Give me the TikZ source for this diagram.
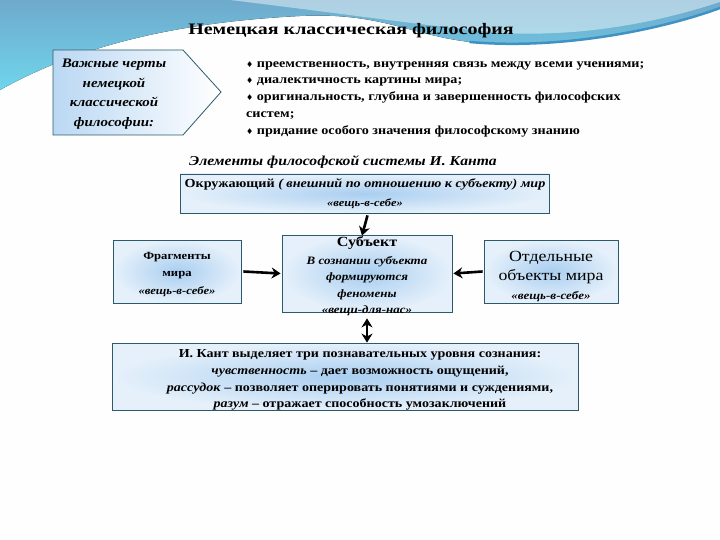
\documentclass[tikz,border=0pt]{standalone}
\usepackage{fontspec}
\setmainfont{Liberation Serif}[FakeStretch=1.15]
\newfontfamily\titlefont{Liberation Serif}[FakeStretch=1.25]
\newfontfamily\symfont{DejaVu Sans}
\usetikzlibrary{arrows.meta}
\definecolor{bordc}{HTML}{2B5A6B}
\definecolor{boxblue}{HTML}{A9CEF0}
\definecolor{skyA}{HTML}{6FA9CC}
\definecolor{skyB}{HTML}{6FD6EC}
\definecolor{swoosh}{HTML}{3F93C4}
\newcommand{\dia}{{\symfont\fontsize{8}{8}\selectfont ♦}}
\tikzset{
  box/.style={draw=bordc, line width=0.8pt, inner color=boxblue, outer color=boxblue!30, inner sep=0pt},
  bigarrow/.style={line width=2.6pt, -{Stealth[length=9pt,width=11pt]}},
  dblarrow/.style={line width=2.6pt, {Stealth[length=9pt,width=11pt]}-{Stealth[length=9pt,width=11pt]}},
  txt/.style={inner sep=0pt, align=center}
}
\begin{document}
\begin{tikzpicture}[x=1pt,y=-1pt]
\useasboundingbox (0,0) rectangle (720,540);
% background
\fill[white!99!gray] (0,0) rectangle (720,540);
\fill[top color=skyA, bottom color=skyB] (0,0) -- (0,90) .. controls (80,45) and (180,22) .. (300,16) .. controls (380,12) and (410,35) .. (470,42) .. controls (560,50) and (660,30) .. (720,8) -- (720,0) -- cycle;
\fill[white, opacity=0.45] (230,0) .. controls (330,12) and (420,25) .. (500,33) .. controls (600,38) and (680,15) .. (720,2) -- (720,0) -- cycle;
\draw[swoosh, line width=2.5pt, line cap=round] (470,42) .. controls (560,50) and (660,30) .. (720,8);
% title
\node[inner sep=0pt, font=\titlefont\bfseries\fontsize{16}{18}\selectfont] (title) at (351,31) {Немецкая классическая философия};
% pentagon
\path[draw=bordc, line width=0.8pt, left color=boxblue!80, right color=white] (53,50) -- (183,50) -- (221,92) -- (183,135) -- (53,135) -- cycle;
\node[txt, font=\bfseries\itshape\fontsize{13}{19.5}\selectfont] (feat) at (114,94) {Важные черты\\немецкой\\классической\\философии:};
% bullet list
\node[inner sep=0pt, anchor=north west, align=left, font=\bfseries\fontsize{12.3}{16.8}\selectfont] (list) at (246,61) {\dia{} преемственность, внутренняя связь между всеми учениями;\\
\dia{} диалектичность картины мира;\\
\dia{} оригинальность, глубина и завершенность философских\\
систем;\\
\dia{} придание особого значения философскому знанию};
% subtitle
\node[inner sep=0pt, font=\bfseries\itshape\fontsize{13.6}{15}\selectfont] (kant) at (343,162) {Элементы философской системы И. Канта};
% boxes
\node[box, minimum width=369pt, minimum height=39pt] (world) at (364.5,193.5) {};
\node[txt, font=\bfseries\fontsize{12.3}{19}\selectfont] (worldtxt) at (365,194) {Окружающий \textit{( внешний по отношению к субъекту) мир}\\{\itshape\fontsize{10.8}{11}\selectfont «вещь-в-себе»}};
\node[box, minimum width=128pt, minimum height=63pt] (frag) at (177,271.5) {};
\node[txt, font=\bfseries\fontsize{11}{17.5}\selectfont] (fragtxt) at (177,274) {Фрагменты\\мира\\{\itshape\fontsize{11}{11}\selectfont «вещь-в-себе»}};
\node[box, minimum width=170pt, minimum height=77pt] (subj) at (367,273.5) {};
\node[txt, font=\bfseries\itshape\fontsize{11.3}{16.3}\selectfont] (subjtxt) at (367,276) {{\upshape\fontsize{14}{14}\selectfont Субъект}\\[2pt]В сознании субъекта\\формируются\\феномены\\{\fontsize{11.3}{11}\selectfont «вещи-для-нас»}};
\node[box, minimum width=134pt, minimum height=63pt] (obj) at (551,271.5) {};
\node[txt, font=\fontsize{15.5}{19}\selectfont] (objtxt) at (551,276) {Отдельные\\объекты мира\\{\bfseries\itshape\fontsize{11.3}{11}\selectfont «вещь-в-себе»}};
\node[box, minimum width=466pt, minimum height=67pt] (levels) at (345,376.5) {};
\node[txt, font=\bfseries\fontsize{12.2}{16.8}\selectfont] (levtxt) at (360,380) {И. Кант выделяет три познавательных уровня сознания:\\
\textit{чувственность} – дает возможность ощущений,\\
\textit{рассудок} – позволяет оперировать понятиями и суждениями,\\
\textit{разум} – отражает способность умозаключений};
% arrows
\draw[bigarrow] ([xshift=3pt,yshift=-2pt]world.south) -- ([xshift=-5pt,yshift=-1pt]subj.north);
\draw[bigarrow] ([xshift=2pt]frag.east) -- ([xshift=-1pt]subj.west);
\draw[bigarrow] ([xshift=-1pt]obj.west) -- ([xshift=1pt]subj.east);
\draw[dblarrow] ([yshift=-6pt]subj.south) -- (subj.south |- levels.north);
\end{tikzpicture}
\end{document}
